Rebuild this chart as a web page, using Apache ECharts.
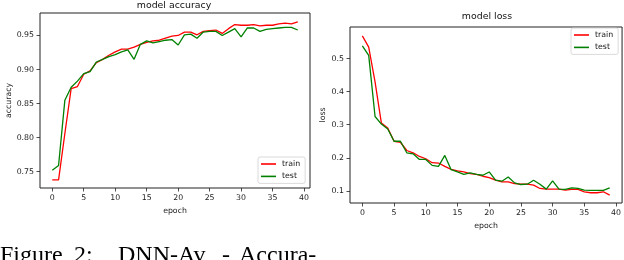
<!DOCTYPE html>
<html>
<head>
<meta charset="utf-8">
<script src="https://cdn.jsdelivr.net/npm/echarts@6/dist/echarts.min.js"></script>
<style>
html,body{margin:0;padding:0;background:#fff;}
#chart{width:624px;height:260px;}
</style>
</head>
<body>
<div id="chart"></div>
<script>
var epochs = [];
for (var i = 0; i < 40; i++) epochs.push(i);

var accTrain = [0.738, 0.738, 0.806, 0.872, 0.875, 0.893, 0.898, 0.910, 0.915, 0.921,
                0.926, 0.930, 0.930, 0.933, 0.937, 0.940, 0.942, 0.943, 0.946, 0.949,
                0.950, 0.955, 0.955, 0.951, 0.956, 0.957, 0.958, 0.953, 0.960, 0.966,
                0.965, 0.965, 0.966, 0.964, 0.965, 0.965, 0.967, 0.968, 0.967, 0.970];
var accTest  = [0.752, 0.759, 0.855, 0.874, 0.883, 0.894, 0.897, 0.911, 0.915, 0.919,
                0.922, 0.926, 0.929, 0.915, 0.937, 0.942, 0.939, 0.941, 0.943, 0.944,
                0.936, 0.951, 0.952, 0.946, 0.955, 0.956, 0.956, 0.950, 0.955, 0.960,
                0.948, 0.961, 0.961, 0.956, 0.959, 0.960, 0.961, 0.962, 0.962, 0.958];
var lossTrain = [0.569, 0.535, 0.430, 0.305, 0.290, 0.250, 0.247, 0.222, 0.215, 0.204,
                 0.197, 0.185, 0.184, 0.174, 0.165, 0.160, 0.157, 0.152, 0.150, 0.144,
                 0.140, 0.132, 0.127, 0.127, 0.122, 0.120, 0.120, 0.117, 0.107, 0.105,
                 0.105, 0.105, 0.102, 0.104, 0.104, 0.097, 0.094, 0.094, 0.097, 0.087];
var lossTest  = [0.539, 0.510, 0.325, 0.302, 0.287, 0.250, 0.250, 0.215, 0.212, 0.195,
                 0.195, 0.177, 0.174, 0.207, 0.164, 0.157, 0.150, 0.154, 0.150, 0.147,
                 0.157, 0.132, 0.129, 0.142, 0.124, 0.119, 0.120, 0.132, 0.120, 0.105,
                 0.130, 0.105, 0.104, 0.109, 0.107, 0.102, 0.101, 0.101, 0.101, 0.109];

var xTicks = [0, 5, 10, 15, 20, 25, 30, 35, 40];
var accTicks = [0.75, 0.80, 0.85, 0.90, 0.95];
var lossTicks = [0.1, 0.2, 0.3, 0.4, 0.5];
var seriesNames = ['train', 'test'];
var captionWords = ['Figure', '2:', 'DNN-Av', '-', 'Accura-'];

function pairs(ys) { return epochs.map(function (e, k) { return [e, ys[k]]; }); }

var FONT = 'DejaVu Sans';
var AX = '#222';
var RED = '#ff0000';
var GREEN = '#008000';

function xAxisCfg(idx, gap) {
  return {
    type: 'value', gridIndex: idx, min: -1.95, max: 40.95,
    name: 'epoch', nameLocation: 'middle', nameGap: gap,
    nameTextStyle: {fontFamily: FONT, fontSize: 7.8, color: AX},
    axisLine: {show: false, onZero: false},
    axisTick: {show: true, inside: false, length: 3.5, customValues: xTicks, lineStyle: {color: AX, width: 0.8}},
    axisLabel: {customValues: xTicks, margin: 6, fontFamily: FONT, fontSize: 7.8, color: AX},
    splitLine: {show: false}
  };
}
function yAxisCfg(idx, mn, mx, ticks, dec, name, gap) {
  return {
    type: 'value', gridIndex: idx, min: mn, max: mx,
    name: name, nameLocation: 'middle', nameGap: gap, nameRotate: 90,
    nameTextStyle: {fontFamily: FONT, fontSize: 7.8, color: AX},
    axisLine: {show: false, onZero: false},
    axisTick: {show: true, inside: false, length: 3.5, customValues: ticks, lineStyle: {color: AX, width: 0.8}},
    axisLabel: {customValues: ticks, margin: 6, fontFamily: FONT, fontSize: 7.8, color: AX,
      formatter: function (v) { return v.toFixed(dec); }},
    splitLine: {show: false}
  };
}
function lineSeries(name, data, color, gi) {
  return {
    type: 'line', name: name, data: pairs(data), xAxisIndex: gi, yAxisIndex: gi,
    symbol: 'none', showSymbol: false, animation: false,
    lineStyle: {color: color, width: 1.3}, itemStyle: {color: color}
  };
}
function legendCfg(left, top) {
  return {
    data: seriesNames, orient: 'vertical', left: left, top: top,
    icon: 'rect', itemWidth: 15, itemHeight: 1.6, itemGap: 2.4,
    padding: [2, 5, 2, 3],
    borderColor: '#d0d0d0', borderWidth: 0.8, borderRadius: 2,
    backgroundColor: 'rgba(255,255,255,0.8)',
    textStyle: {fontFamily: FONT, fontSize: 7.8, color: '#111', lineHeight: 10, padding: [0, 0, 0, 1]},
    selectedMode: false
  };
}

var captionX = [0, 74, 118, 222, 239];
var graphics = [
  {type: 'text', x: 174, y: 6, style: {text: 'model accuracy', fontFamily: FONT, fontSize: 9.4, fill: '#111', textAlign: 'center', textVerticalAlign: 'middle'}},
  {type: 'text', x: 487, y: 17, style: {text: 'model loss', fontFamily: FONT, fontSize: 9.4, fill: '#111', textAlign: 'center', textVerticalAlign: 'middle'}}
];
captionWords.forEach(function (w, k) {
  graphics.push({type: 'text', x: captionX[k], y: 256,
    style: {text: w, fontFamily: 'Liberation Serif', fontSize: 24, fill: '#000', textAlign: 'left', textVerticalAlign: 'middle'}});
});

var chart = echarts.init(document.getElementById('chart'), null, {renderer: 'canvas'});
chart.setOption({
  animation: false,
  backgroundColor: '#fff',
  grid: [
    {left: 40, top: 13, width: 270, height: 175, show: true, borderColor: AX, borderWidth: 1, backgroundColor: 'transparent'},
    {left: 350, top: 27, width: 273, height: 176, show: true, borderColor: AX, borderWidth: 1, backgroundColor: 'transparent'}
  ],
  xAxis: [xAxisCfg(0, 18), xAxisCfg(1, 19)],
  yAxis: [
    yAxisCfg(0, 0.726, 0.983, accTicks, 2, 'accuracy', 27),
    yAxisCfg(1, 0.063, 0.596, lossTicks, 1, 'loss', 23)
  ],
  legend: [legendCfg(258, 157), legendCfg(571, 28)],
  series: [
    lineSeries('train', accTrain, RED, 0),
    lineSeries('test', accTest, GREEN, 0),
    lineSeries('train', lossTrain, RED, 1),
    lineSeries('test', lossTest, GREEN, 1)
  ],
  graphic: graphics
});
</script>
</body>
</html>
